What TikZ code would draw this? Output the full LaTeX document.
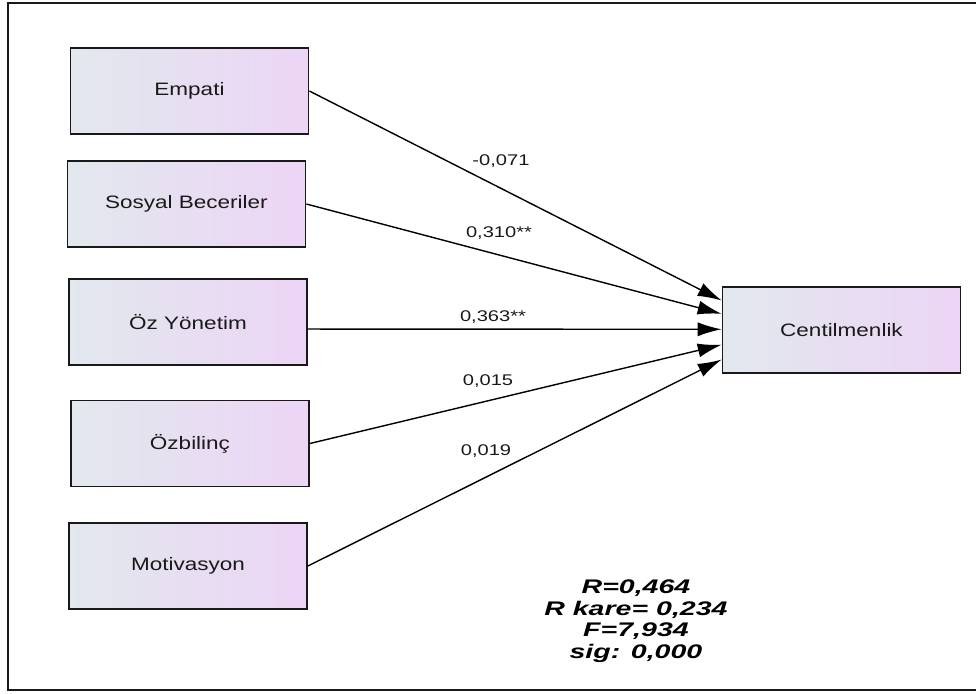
\documentclass[tikz,border=0pt]{standalone}
\usepackage{fontspec}
\usetikzlibrary{arrows.meta}
\newfontfamily\boxfont{Liberation Sans}[FakeStretch=1.25]
\newfontfamily\coeffont{Liberation Sans}[FakeStretch=1.3]
\newfontfamily\statfont{Liberation Sans}[FakeStretch=1.45]
\definecolor{boxleft}{RGB}{226,232,238}
\definecolor{boxright}{RGB}{236,213,245}
\definecolor{ink}{RGB}{25,25,25}

\begin{document}
\begin{tikzpicture}[x=0.025cm,y=-0.025cm,
  var/.style={shape=rectangle,draw=ink,line width=1.2pt,left color=boxleft,right color=boxright,
    minimum width=5.95cm,minimum height=2.15cm,inner sep=0pt,text=ink,font=\boxfont\fontsize{12.8}{14}\selectfont},
  coef/.style={inner sep=0pt,text=ink,font=\coeffont\fontsize{11}{12}\selectfont},
  path/.style={draw=black,line width=1pt,-{Latex[length=17pt,width=10pt]}}]
  \useasboundingbox (0,0) rectangle (976,693);
  \draw[draw=ink,line width=1.4pt] (8,3) rectangle (990,690);
  \node[var] (emp) at (189.5,91) {Empati};
  \node[var] (sos) at (186.5,204) {Sosyal Beceriler};
  \node[var] (oz) at (188,322) {Öz Yönetim};
  \node[var] (ozb) at (190,443.5) {Özbilinç};
  \node[var] (mot) at (188,566) {Motivasyon};
  \node[var] (cent) at (841.5,330) {Centilmenlik};
  \draw[path] (emp.east) to ([yshift=21pt]cent.west);
  \draw[path] (sos.east) to ([yshift=11.5pt]cent.west);
  \draw[path] ([yshift=-5pt]oz.east) to ([yshift=0.5pt]cent.west);
  \draw[path] (ozb.east) to ([yshift=-10.5pt]cent.west);
  \draw[path] (mot.east) to ([yshift=-21pt]cent.west);
  \node[coef] (c1) at (501,161) {-0,071};
  \node[coef] (c2) at (499,233) {0,310**};
  \node[coef] (c3) at (493,317) {0,363**};
  \node[coef] (c4) at (488,381) {0,015};
  \node[coef] (c5) at (486,451) {0,019};
  \node[align=center,inner sep=0pt,text=black,font=\statfont\bfseries\itshape\fontsize{14}{15.4}\selectfont] (stat) at (636,621)
    {R=0,464\\R kare= 0,234\\F=7,934\\sig: 0,000};
\end{tikzpicture}
\end{document}
